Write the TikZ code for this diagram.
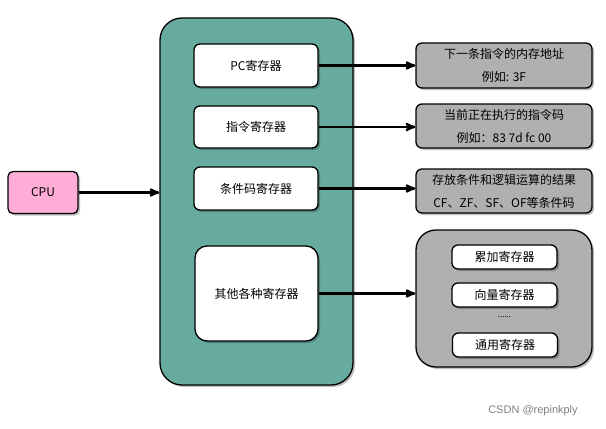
\documentclass[tikz,border=0pt]{standalone}
\usepackage{fontspec}
\setmainfont{Noto Sans CJK SC}
\newfontfamily\markfont{Liberation Sans}
\usetikzlibrary{positioning, arrows, shadows}
\definecolor{cpupink}{HTML}{FFADD6}
\definecolor{boardgreen}{HTML}{67AB9F}
\definecolor{notegray}{HTML}{B0B0B0}
\tikzset {
    >=stealth',
    every node/.style={font=\fontsize{12}{23}\selectfont},
    softshadow/.style={drop shadow={shadow xshift=2pt, shadow yshift=-2pt, opacity=0.25, fill=black}},
    reg/.style={draw, line width=1.3pt, fill=white, rounded corners=6pt, softshadow},
    note/.style={draw, line width=1.3pt, fill=notegray, rounded corners=6pt, align=center,
        minimum width=176pt, minimum height=44pt, softshadow},
    link/.style={->, line width=2.2pt}
}
\begin{document}
\begin{tikzpicture}[x=1pt, y=-1pt]
    \useasboundingbox (0,0) rectangle (606,429);

    \node[reg, fill=cpupink, rounded corners=5pt, minimum width=70pt, minimum height=42pt] (cpu) at (43,192.5) {CPU};
    \node[draw, line width=1.3pt, fill=boardgreen, rounded corners=22pt, minimum width=193pt, minimum height=367pt, softshadow] (board) at (256.5,201.5) {};

    \node[reg, minimum width=124pt, minimum height=43pt] (pc) at (256,65.5) {PC寄存器};
    \node[reg, minimum width=124pt, minimum height=42pt] (ir) at (256,127) {指令寄存器};
    \node[reg, minimum width=124pt, minimum height=43pt] (flags) at (256,188.5) {条件码寄存器};
    \node[reg, rounded corners=12pt, minimum width=123pt, minimum height=95pt] (others) at (256.5,293.5) {其他各种寄存器};

    \node[note, minimum height=45pt] (pcnote) at (504,65.5) {下一条指令的内存地址\\例如: 3F};
    \node[note] (irnote) at (504,126) {当前正在执行的指令码\\例如：83 7d fc 00};
    \node[note] (flagsnote) at (504,191) {存放条件和逻辑运算的结果\\CF、ZF、SF、OF等条件码};
    \node[note, rounded corners=20pt, minimum height=137pt] (othersnote) at (504,298.5) {};

    \node[reg, minimum width=105pt, minimum height=24pt] (acc) at (504.5,257) {累加寄存器};
    \node[reg, minimum width=105pt, minimum height=24pt] (vec) at (504.5,295) {向量寄存器};
    \node[font=\fontsize{8}{8}\selectfont] (dots) at (504.5,317) {......};
    \node[reg, minimum width=105pt, minimum height=24pt] (gen) at (505,345) {通用寄存器};

    \draw[link] (cpu.east) -- (cpu.east -| board.west);
    \draw[link] (pc.east) -- (pc.east -| pcnote.west);
    \draw[link] (ir.east) -- (ir.east -| irnote.west);
    \draw[link] (flags.east) -- (flags.east -| flagsnote.west);
    \draw[link] (others.east) -- (others.east -| othersnote.west);

    \node[font=\markfont\fontsize{11}{13}\selectfont, text=gray] (mark) at (533,411) {CSDN @repinkply};
\end{tikzpicture}
\end{document}
